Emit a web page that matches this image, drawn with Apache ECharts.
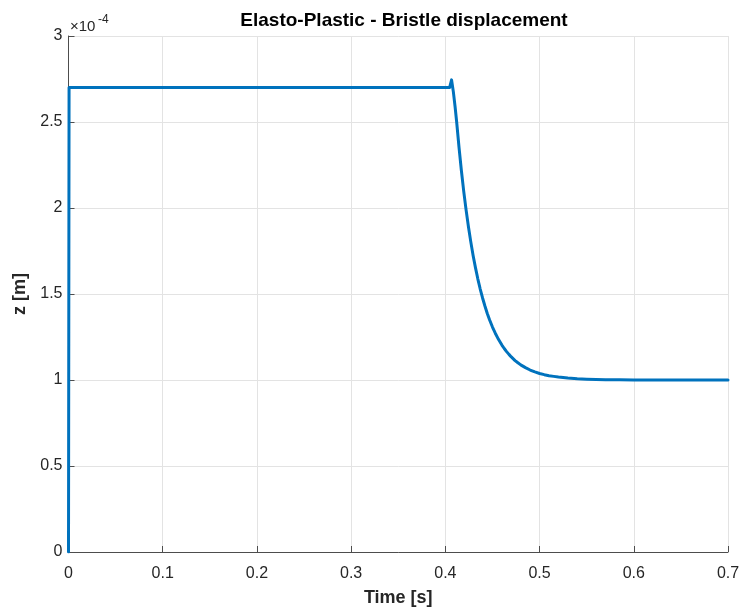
<!DOCTYPE html>
<html>
<head>
<meta charset="utf-8">
<script src="https://cdn.jsdelivr.net/npm/echarts@6/dist/echarts.min.js"></script>
<style>
  html, body { margin: 0; padding: 0; background: #ffffff; }
  #chart { width: 743px; height: 612px; }
</style>
</head>
<body>
<div id="chart"></div>
<script>
// Bristle displacement of the elasto-plastic friction model over time.
// Displacement values are in units of 1e-4 m (axis shows the x10^-4 multiplier).
const timeS = [
  0, 0.0006, 0.05, 0.1, 0.2, 0.3, 0.4, 0.4045, 0.4066, 0.4085,
  0.4103, 0.412, 0.4145, 0.417, 0.4195, 0.422, 0.4245, 0.427, 0.4295, 0.432,
  0.4345, 0.437, 0.4395, 0.442, 0.4445, 0.447, 0.45, 0.453, 0.4565, 0.46,
  0.4625, 0.465, 0.4675, 0.47, 0.474, 0.477, 0.48, 0.485, 0.49, 0.495,
  0.5, 0.505, 0.51, 0.515, 0.52, 0.53, 0.54, 0.55, 0.56, 0.57,
  0.585, 0.6, 0.65, 0.7
];
const zDisp = [
  0, 2.700, 2.700, 2.700, 2.700, 2.700, 2.700, 2.700, 2.745, 2.675,
  2.590, 2.500, 2.352, 2.218, 2.097, 1.989, 1.891, 1.803, 1.723, 1.652,
  1.587, 1.529, 1.477, 1.430, 1.387, 1.349, 1.308, 1.272, 1.235, 1.203,
  1.183, 1.165, 1.149, 1.134, 1.113, 1.100, 1.088, 1.072, 1.058, 1.047,
  1.038, 1.031, 1.025, 1.021, 1.017, 1.011, 1.007, 1.005, 1.003, 1.002,
  1.001, 1.000, 1.000, 1.000
];

const xTicks = { min: 0, max: 0.7, step: 0.1 };
const yTicks = { min: 0, max: 3, step: 0.5 };

const fontFamily = '"Liberation Sans", Arial, Helvetica, sans-serif';
const axisColor = '#4d4d4d';
const textColor = '#262626';
const gridColor = '#e3e3e3';

const chart = echarts.init(document.getElementById('chart'), null, { renderer: 'canvas' });

chart.setOption({
  animation: false,
  backgroundColor: '#ffffff',
  title: {
    text: 'Elasto-Plastic - Bristle displacement',
    left: 399,
    top: 6,
    textAlign: 'center',
    textStyle: { fontFamily, fontSize: 19, fontWeight: 'bold', color: '#000000' }
  },
  grid: { left: 68.5, right: 15, top: 36, bottom: 59, containLabel: false },
  xAxis: {
    type: 'value',
    min: xTicks.min,
    max: xTicks.max,
    interval: xTicks.step,
    name: 'Time [s]',
    nameLocation: 'middle',
    nameGap: 37,
    nameTextStyle: { fontFamily, fontSize: 18, fontWeight: 'bold', color: textColor },
    axisLine: { show: true, lineStyle: { color: axisColor, width: 1 } },
    axisTick: { show: true, inside: true, length: 6, lineStyle: { color: axisColor } },
    axisLabel: {
      fontFamily, fontSize: 16, color: textColor, margin: 14,
      formatter: v => String(Math.round(v * 10) / 10)
    },
    splitLine: { show: true, lineStyle: { color: gridColor, width: 1 } }
  },
  yAxis: {
    type: 'value',
    min: yTicks.min,
    max: yTicks.max,
    interval: yTicks.step,
    name: 'z [m]',
    nameLocation: 'middle',
    nameGap: 39,
    nameTextStyle: { fontFamily, fontSize: 18, fontWeight: 'bold', color: textColor },
    axisLine: { show: true, lineStyle: { color: axisColor, width: 1 } },
    axisTick: { show: true, inside: true, length: 6, lineStyle: { color: axisColor } },
    axisLabel: {
      fontFamily, fontSize: 16, color: textColor, margin: 6,
      formatter: v => String(Math.round(v * 10) / 10)
    },
    splitLine: { show: true, lineStyle: { color: gridColor, width: 1 } }
  },
  graphic: [
    {
      type: 'text',
      x: 70,
      y: 34,
      style: {
        text: '\u00d710',
        fontFamily, fontSize: 15, fill: textColor,
        verticalAlign: 'bottom'
      }
    },
    {
      type: 'text',
      x: 98,
      y: 26,
      style: {
        text: '-4',
        fontFamily, fontSize: 12, fill: textColor,
        verticalAlign: 'bottom'
      }
    }
  ],
  series: [
    {
      type: 'line',
      data: timeS.map((t, i) => [t, zDisp[i]]),
      showSymbol: false,
      smooth: false,
      clip: true,
      lineStyle: { color: '#0072BD', width: 3, join: 'round', cap: 'round' },
      itemStyle: { color: '#0072BD' }
    }
  ]
});
</script>
</body>
</html>
